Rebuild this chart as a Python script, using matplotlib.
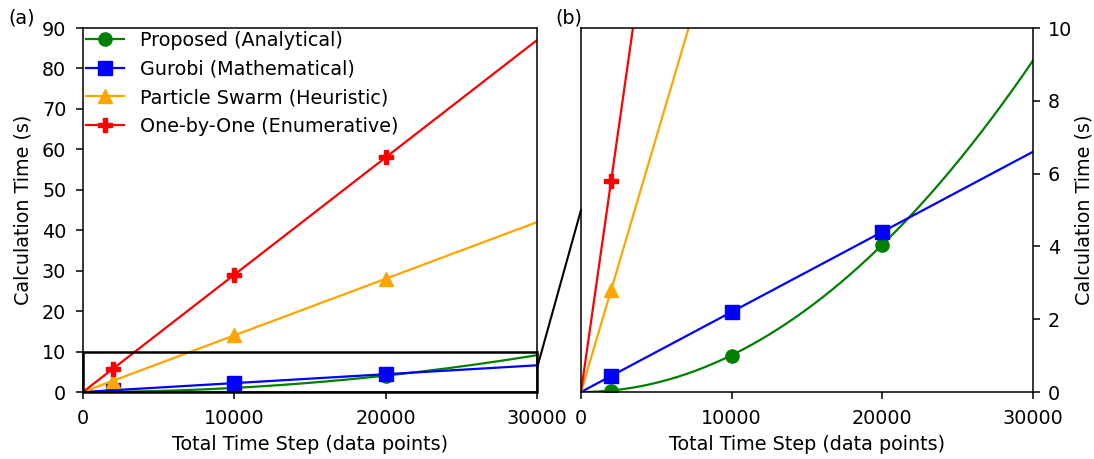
import numpy as np
import matplotlib
matplotlib.use("Agg")
import matplotlib.pyplot as plt
from matplotlib.patches import Rectangle, ConnectionPatch

steps = np.array([2000, 10000, 20000])
proposed = np.array([0.04, 1.0, 4.05])
gurobi = np.array([0.44, 2.2, 4.4])
pso = np.array([2.8, 14.0, 28.0])
one_by_one = np.array([5.8, 29.0, 58.0])

labels = ["Proposed (Analytical)", "Gurobi (Mathematical)",
          "Particle Swarm (Heuristic)", "One-by-One (Enumerative)"]
colors = ["green", "blue", "orange", "red"]
markers = ["o", "s", "^", "P"]
fit_order = [2, 1, 1, 1]  # proposed grows quadratically, others linearly

plt.rcParams.update({
    "font.size": 13.8,
    "axes.linewidth": 1.1,
    "xtick.major.size": 5,
    "ytick.major.size": 5,
    "xtick.major.width": 1.1,
    "ytick.major.width": 1.1,
    "xtick.major.pad": 7.5,
    "ytick.major.pad": 7,
})


def fit_through_origin(x, y, order):
    # least squares fit of y = a * x**order
    a = np.sum(x**order * y) / np.sum(x**(2 * order))
    xs = np.linspace(0, 30000, 300)
    return xs, a * xs**order


fig = plt.figure(figsize=(10.94, 4.59), dpi=100)
ax1 = fig.add_axes([83 / 1094, 67 / 459, 454 / 1094, 364 / 459])
ax2 = fig.add_axes([581 / 1094, 67 / 459, 452 / 1094, 364 / 459])

series = [proposed, gurobi, pso, one_by_one]
for ax in (ax1, ax2):
    for y, lab, c, m, k in zip(series, labels, colors, markers, fit_order):
        xs, ys = fit_through_origin(steps, y, k)
        ax.plot(xs, ys, color=c, lw=1.6)
        ax.plot(steps, y, linestyle="none", marker=m, color=c, ms=9.5)
        # legend proxy
        ax.plot([], [], color=c, marker=m, ms=9.5, lw=1.6, label=lab)
    ax.set_xlim(0, 30000)
    ax.set_xticks([0, 10000, 20000, 30000])
    ax.set_xlabel("Total Time Step (data points)", labelpad=5)

ax1.set_ylim(0, 90)
ax1.set_yticks(range(0, 91, 10))
ax1.set_ylabel("Calculation Time (s)", labelpad=7)
ax1.add_patch(Rectangle((0, 0), 30000, 10, fill=False, edgecolor="black",
                        lw=1.8, clip_on=False, zorder=5))
handles, labs = ax1.get_legend_handles_labels()
ax1.legend(handles[-4:], labs[-4:], loc="upper left", frameon=False,
           borderaxespad=0.0, borderpad=0.15, labelspacing=0.5,
           handlelength=2.0, handletextpad=0.8)

ax2.set_ylim(0, 10)
ax2.set_yticks(range(0, 11, 2))
ax2.yaxis.tick_right()
ax2.tick_params(axis="y", pad=5.5)
ax2.yaxis.set_label_position("right")
ax2.set_ylabel("Calculation Time (s)", labelpad=2)

con = ConnectionPatch(xyA=(30000, 5.9), coordsA=ax1.transData,
                      xyB=(0, 5.0), coordsB=ax2.transData,
                      color="black", lw=1.5)
fig.add_artist(con)

fig.text(8 / 1094, 1 - 24 / 459, "(a)")
fig.text(555 / 1094, 1 - 24 / 459, "(b)")

fig.savefig("out.png", dpi=100)
